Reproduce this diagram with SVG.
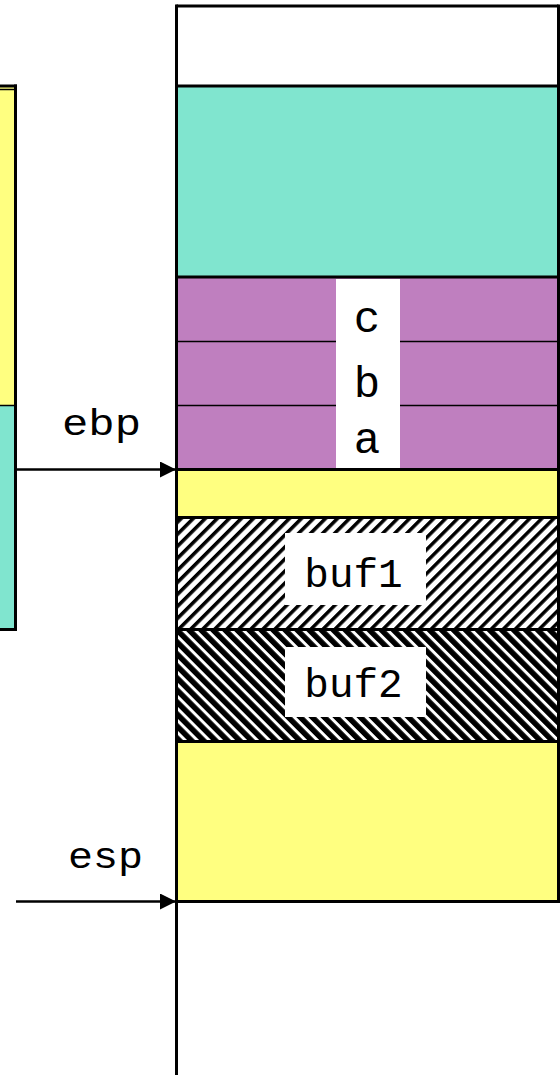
<svg xmlns="http://www.w3.org/2000/svg" width="560" height="1075" viewBox="0 0 560 1075">
<style>
.mono{font-family:"Liberation Mono","Courier New",monospace;fill:#000}
.thick{stroke:#000;stroke-width:3;fill:none}
.thin{stroke:#000;stroke-width:1.5;fill:none}
.lbl{fill:#fff}
</style>
<defs>
<pattern id="hatch1" width="8.5" height="8.5" patternUnits="userSpaceOnUse" patternTransform="rotate(45)">
<rect width="8.5" height="8.5" fill="#fff"/>
<rect width="3.5" height="8.5" fill="#000"/>
</pattern>
<pattern id="hatch2" width="8.5" height="8.5" patternUnits="userSpaceOnUse" patternTransform="rotate(-45)">
<rect width="8.5" height="8.5" fill="#fff"/>
<rect width="5.5" height="8.5" fill="#000"/>
</pattern>
<marker id="arr" markerWidth="16" markerHeight="16" refX="16" refY="8" orient="auto" markerUnits="userSpaceOnUse">
<path d="M0,0 L16,8 L0,16 Z" fill="#000"/>
</marker>
</defs>
<g id="left-column">
<rect x="-3" y="86" width="18.5" height="320" fill="#FFFF80"/>
<rect x="-3" y="406" width="18.5" height="223" fill="#80E5CF"/>
<line class="thick" x1="-3" y1="86" x2="17" y2="86"/>
<line class="thin" x1="-3" y1="89.5" x2="14" y2="89.5" stroke-width="1"/>
<line class="thin" x1="-3" y1="405.5" x2="15" y2="405.5"/>
<line class="thick" x1="-3" y1="629.5" x2="17" y2="629.5"/>
<line class="thick" x1="15.5" y1="84.5" x2="15.5" y2="631"/>
</g>
<g id="stack">
<rect x="176.5" y="6" width="382" height="80" fill="#fff"/>
<rect x="176.5" y="86" width="382" height="191" fill="#80E5CF"/>
<rect x="176.5" y="277" width="382" height="192.5" fill="#BF7FBF"/>
<rect x="176.5" y="469.5" width="382" height="48" fill="#FFFF80"/>
<rect x="176.5" y="517.5" width="382" height="112" fill="url(#hatch1)"/>
<rect x="176.5" y="629.5" width="382" height="112" fill="url(#hatch2)"/>
<rect x="176.5" y="741.5" width="382" height="160" fill="#FFFF80"/>
<line class="thin" x1="176.5" y1="341.5" x2="558.5" y2="341.5"/>
<line class="thin" x1="176.5" y1="405.5" x2="558.5" y2="405.5"/>
</g>
<g id="abc">
<rect class="lbl" x="336" y="279" width="64" height="189"/>
<text class="mono" x="367" y="332" font-size="44" text-anchor="middle">c</text>
<text class="mono" x="367" y="397" font-size="44" text-anchor="middle">b</text>
<text class="mono" x="367" y="453" font-size="44" text-anchor="middle">a</text>
</g>
<g id="buf1">
<rect class="lbl" x="285" y="533" width="141" height="72"/>
<text class="mono" x="353.5" y="587" font-size="41" text-anchor="middle">buf1</text>
</g>
<g id="buf2">
<rect class="lbl" x="285" y="647" width="141" height="70"/>
<text class="mono" x="353.5" y="697" font-size="41" text-anchor="middle">buf2</text>
</g>
<g id="borders">
<line class="thick" x1="176.5" y1="6" x2="558.5" y2="6"/>
<line class="thick" x1="176.5" y1="86" x2="558.5" y2="86"/>
<line class="thick" x1="176.5" y1="277" x2="558.5" y2="277"/>
<line class="thick" x1="176.5" y1="469.5" x2="558.5" y2="469.5"/>
<line class="thick" x1="176.5" y1="517.5" x2="558.5" y2="517.5"/>
<line class="thick" x1="176.5" y1="629.5" x2="558.5" y2="629.5"/>
<line class="thick" x1="176.5" y1="741.5" x2="558.5" y2="741.5"/>
<line class="thick" x1="176.5" y1="901.5" x2="558.5" y2="901.5"/>
<line class="thick" x1="558.5" y1="4.5" x2="558.5" y2="903"/>
<line class="thick" x1="176.5" y1="4.5" x2="176.5" y2="1075"/>
</g>
<g id="ebp">
<text class="mono" x="62" y="435" font-size="36" textLength="79" lengthAdjust="spacingAndGlyphs">ebp</text>
</g>
<g id="esp">
<text class="mono" x="68" y="868" font-size="36" textLength="75" lengthAdjust="spacingAndGlyphs">esp</text>
</g>
<g id="connectors">
<line x1="17" y1="469.5" x2="176" y2="469.5" stroke="#000" stroke-width="2.5" marker-end="url(#arr)"/>
<line x1="16" y1="901.5" x2="176" y2="901.5" stroke="#000" stroke-width="2.5" marker-end="url(#arr)"/>
</g>
</svg>
